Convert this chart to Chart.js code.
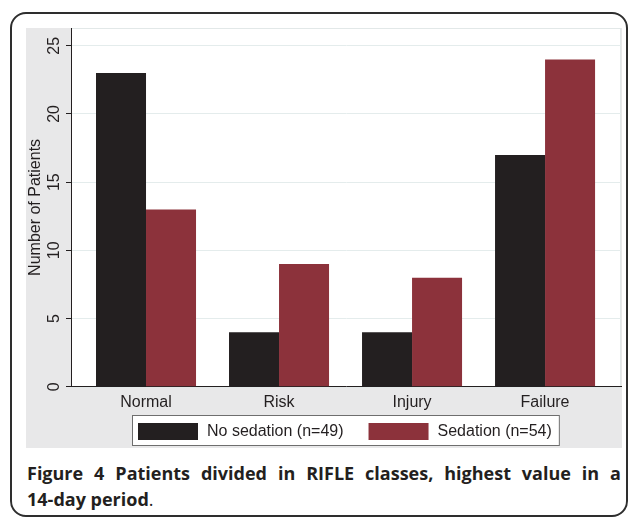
<!DOCTYPE html>
<html>
<head>
<meta charset="utf-8">
<script src="https://cdn.jsdelivr.net/npm/chart.js@4.4.1/dist/chart.umd.min.js"></script>
<style>
  html, body { margin: 0; padding: 0; background: #fff; }
  body { width: 630px; height: 519px; position: relative; overflow: hidden; }
  #frame {
    position: absolute; left: 10px; top: 12px; width: 614px; height: 501px;
    border: 2px solid #2e2e2e; border-radius: 16px;
  }
  #panel {
    position: absolute; left: 26px; top: 28px; width: 596px; height: 420px;
    background: #e8e8e9;
  }
  #caption {
    position: absolute; left: 27px; top: 460px; width: 594px;
    font-family: "Open Sans", sans-serif; font-weight: bold; font-size: 18px;
    line-height: 26px; color: #231f20; text-align: justify; text-align-last: left;
  }
  #caption .dot { font-weight: normal; }
  #caption .nw { white-space: nowrap; }
</style>
</head>
<body>
<div id="frame"></div>
<div id="panel"><canvas id="grafico" width="596" height="420"></canvas></div>
<div id="caption">Figure 4 Patients divided in RIFLE classes, highest value in a <span class="nw">14-day</span> period<span class="dot">.</span></div>
<script>
// Datos del grafico
const categories = ['Normal', 'Risk', 'Injury', 'Failure'];
const noSedation = [23, 4, 4, 17];
const sedation = [13, 9, 8, 24];
const seriesNames = ['No sedation (n=49)', 'Sedation (n=54)'];
const yTicks = [0, 5, 10, 15, 20, 25];

const black = '#231f20';
const red = '#8c323b';

// fondo blanco del area de trazado
const plotBackground = {
  id: 'plotBackground',
  beforeDraw(chart) {
    const { ctx, chartArea: a } = chart;
    ctx.save();
    ctx.fillStyle = '#ffffff';
    ctx.fillRect(a.left, a.top, a.right - a.left, a.bottom - a.top);
    ctx.strokeStyle = '#e2e8e8';
    ctx.lineWidth = 1;
    ctx.strokeRect(a.left + 0.5, a.top + 0.5, a.right - a.left - 1, a.bottom - a.top);
    ctx.restore();
  }
};

// leyenda con caja, estilo Stata
const boxLegend = {
  id: 'boxLegend',
  afterDraw(chart) {
    const { ctx, chartArea: a } = chart;
    const sets = chart.data.datasets;
    ctx.save();
    ctx.font = '16px "Liberation Sans", Arial, sans-serif';
    const swW = 60, swH = 17, gapText = 9, gapItem = 25, pad = 6;
    const widths = sets.map(d => swW + gapText + ctx.measureText(d.label).width);
    const content = widths.reduce((s, w) => s + w, 0) + gapItem * (sets.length - 1);
    const boxW = content + pad * 2 + 2;
    const boxH = 31;
    const boxL = Math.round((a.left + a.right) / 2 - boxW / 2);
    const boxT = 387;
    ctx.fillStyle = '#ffffff';
    ctx.fillRect(boxL, boxT, boxW, boxH);
    ctx.strokeStyle = '#6e6e6e';
    ctx.lineWidth = 1;
    ctx.strokeRect(boxL + 0.5, boxT + 0.5, boxW - 1, boxH - 1);
    let x = boxL + pad;
    const cy = boxT + boxH / 2 + 1;
    sets.forEach((d, i) => {
      ctx.fillStyle = d.backgroundColor;
      ctx.fillRect(x, cy - swH / 2, swW, swH);
      ctx.fillStyle = '#231f20';
      ctx.textBaseline = 'middle';
      ctx.fillText(d.label, x + swW + gapText, cy);
      x += widths[i] + gapItem;
    });
    ctx.restore();
  }
};

const ctx = document.getElementById('grafico').getContext('2d');
const myChart = new Chart(ctx, {
  type: 'bar',
  data: {
    datasets: [
      {
        label: seriesNames[0],
        data: categories.map((c, i) => ({ x: i, y: noSedation[i] })),
        backgroundColor: black
      },
      {
        label: seriesNames[1],
        data: categories.map((c, i) => ({ x: i, y: sedation[i] })),
        backgroundColor: red
      }
    ]
  },
  plugins: [plotBackground, boxLegend],
  options: {
    responsive: false,
    animation: false,
    layout: { padding: { top: 0, right: 1, bottom: 30, left: 0 } },
    datasets: { bar: { categoryPercentage: 0.752, barPercentage: 1.0 } },
    plugins: { legend: { display: false }, tooltip: { enabled: false } },
    scales: {
      x: {
        type: 'linear',
        offset: false,
        min: -0.564,
        max: 3.571,
        afterBuildTicks: (s) => { s.ticks = categories.map((c, i) => ({ value: i })); },
        grid: { display: false, drawTicks: false, offset: false },
        border: { display: true, color: '#231f20', width: 1 },
        ticks: {
          padding: 6,
          color: '#231f20',
          font: { family: '"Liberation Sans", Arial, sans-serif', size: 16 },
          callback: (v) => categories[v]
        }
      },
      y: {
        min: 0,
        max: 26.3,
        afterBuildTicks: (s) => { s.ticks = yTicks.map(v => ({ value: v })); },
        afterFit: (s) => { s.width = 45; s.paddingTop = 0; s.paddingBottom = 0; },
        grid: { color: '#e4ecec', tickColor: '#231f20', tickLength: 5, lineWidth: 1 },
        border: { display: true, color: '#231f20', width: 1 },
        ticks: {
          padding: 3,
          minRotation: 90,
          maxRotation: 90,
          crossAlign: 'center',
          color: '#231f20',
          font: { family: '"Liberation Sans", Arial, sans-serif', size: 16 }
        },
        title: {
          display: true,
          text: 'Number of Patients',
          color: '#231f20',
          padding: 0,
          font: { family: '"Liberation Sans", Arial, sans-serif', size: 16 }
        }
      }
    }
  }
});
</script>
</body>
</html>
